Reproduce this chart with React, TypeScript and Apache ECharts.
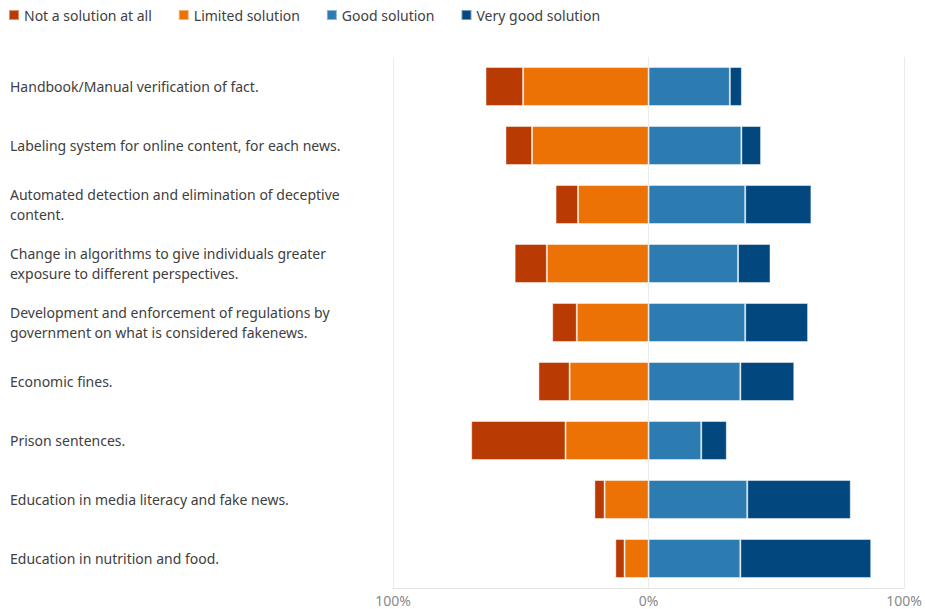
import React, { useEffect, useRef } from "react";
import * as echarts from "echarts";

const categories = [
  "Handbook/Manual verification of fact.",
  "Labeling system for online content, for each news.",
  "Automated detection and elimination of deceptive content.",
  "Change in algorithms to give individuals greater exposure to different perspectives.",
  "Development and enforcement of regulations by government on what is considered fakenews.",
  "Economic fines.",
  "Prison sentences.",
  "Education in media literacy and fake news.",
  "Education in nutrition and food.",
];

const notASolution = [14.7, 10.4, 8.8, 12.6, 9.6, 12.2, 36.9, 4.0, 3.6];
const limitedSolution = [49.1, 45.6, 27.6, 39.8, 28.1, 30.9, 32.5, 17.2, 9.4];
const goodSolution = [31.8, 36.3, 37.8, 35.0, 37.8, 35.9, 20.6, 38.6, 35.9];
const veryGoodSolution = [4.7, 7.7, 25.9, 12.7, 24.6, 21.1, 10.0, 40.5, 51.2];

const seriesNames = ["Not a solution at all", "Limited solution", "Good solution", "Very good solution"];
const colors = ["#B93A02", "#EC7206", "#2C7BB1", "#02487F"];

const FONT = "'Noto Sans', sans-serif";

export default function App() {
  const ref = useRef<HTMLDivElement>(null);
  useEffect(() => {
    if (!ref.current) return;
    const chart = echarts.init(ref.current, undefined, { renderer: "svg" });
    const itemStyle = (c: string) => ({
      color: c,
      borderColor: "rgba(255,255,255,0.45)",
      borderWidth: 1,
    });
    chart.setOption({
      animation: false,
      textStyle: { fontFamily: FONT },
      legend: {
        left: 3,
        top: 3,
        itemWidth: 10,
        itemHeight: 10,
        itemGap: 26,
        icon: "rect",
        data: seriesNames,
        textStyle: { fontSize: 14, color: "#404040", fontFamily: FONT },
      },
      grid: { left: 393, right: 20, top: 57, bottom: 21 },
      xAxis: {
        type: "value",
        min: -100,
        max: 100,
        interval: 100,
        axisLine: { show: true, lineStyle: { color: "#e3e3e3" } },
        axisTick: { show: false },
        splitLine: { show: true, lineStyle: { color: "#ebebeb" } },
        axisLabel: {
          color: "#8a8a8a",
          fontSize: 14,
          fontFamily: FONT,
          margin: 5,
          formatter: (v: number) => Math.abs(v) + "%",
        },
      },
      yAxis: {
        type: "category",
        inverse: true,
        data: categories,
        axisLine: { show: false },
        axisTick: { show: false },
        axisLabel: {
          align: "left",
          margin: 383,
          width: 345,
          overflow: "break",
          fontSize: 14,
          lineHeight: 20,
          color: "#404040",
          fontFamily: FONT,
        },
      },
      series: [
        {
          name: seriesNames[1],
          type: "bar",
          stack: "total",
          barWidth: "66%",
          itemStyle: itemStyle(colors[1]),
          data: limitedSolution.map((v) => -v),
        },
        {
          name: seriesNames[0],
          type: "bar",
          stack: "total",
          barWidth: "66%",
          itemStyle: itemStyle(colors[0]),
          data: notASolution.map((v) => -v),
        },
        {
          name: seriesNames[2],
          type: "bar",
          stack: "total",
          barWidth: "66%",
          itemStyle: itemStyle(colors[2]),
          data: goodSolution,
        },
        {
          name: seriesNames[3],
          type: "bar",
          stack: "total",
          barWidth: "66%",
          itemStyle: itemStyle(colors[3]),
          data: veryGoodSolution,
        },
      ],
    });
    return () => chart.dispose();
  }, []);
  return (
    <div
      ref={ref}
      style={{ position: "fixed", left: 0, top: 0, width: 925, height: 609, background: "#fff" }}
    />
  );
}
